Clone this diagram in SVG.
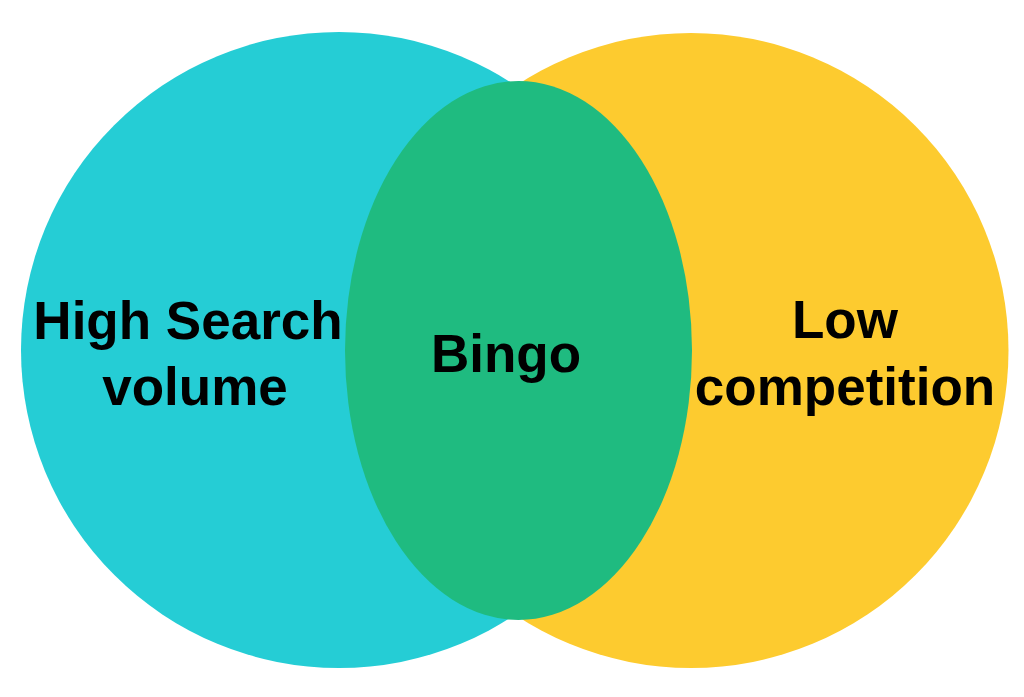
<svg xmlns="http://www.w3.org/2000/svg" width="1024" height="697" viewBox="0 0 1024 697">
<style>
.lbl{font-family:"Liberation Sans",Arial,Helvetica,sans-serif;font-weight:bold;font-size:53px;fill:#000;text-anchor:middle}
</style>
<rect width="1024" height="697" fill="#fff"/>
<g id="high-search-volume">
<circle cx="339" cy="350" r="318" fill="#25CDD5"/>
</g>
<g id="low-competition">
<circle cx="691" cy="350.5" r="317.5" fill="#FDCB2F"/>
</g>
<g id="bingo">
<ellipse cx="518.5" cy="350.5" rx="173.5" ry="269.5" fill="#1FBB80"/>
</g>
<g id="labels">
<text class="lbl" x="188" y="339">High Search</text>
<text class="lbl" x="195" y="405">volume</text>
<text class="lbl" x="506" y="372">Bingo</text>
<text class="lbl" x="845" y="338">Low</text>
<text class="lbl" x="845" y="405">competition</text>
</g>
<g id="connectors"/>
</svg>
